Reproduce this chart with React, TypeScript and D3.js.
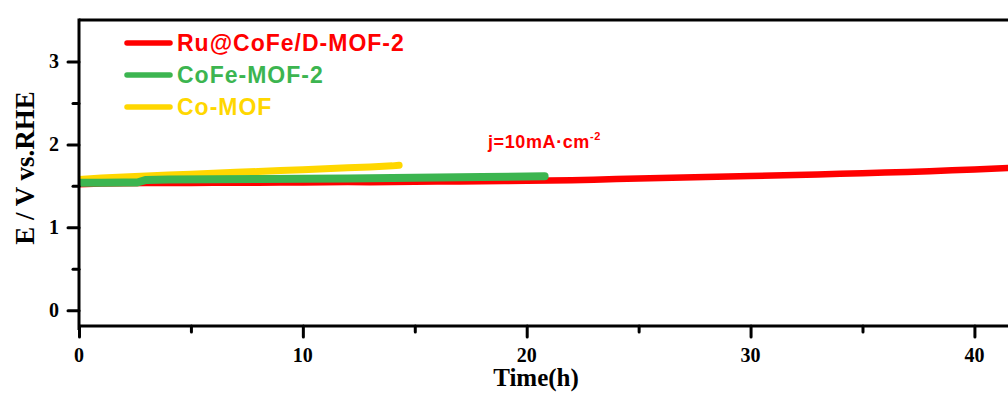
import { useEffect, useRef } from "react"
import * as d3 from "d3"

// Stability curves (time in h, potential in V vs. RHE)
const ruTime = [0, 1, 2, 3, 4, 5, 6, 7, 8, 9, 10, 11, 12, 13, 14, 15, 16, 17, 18, 19, 20, 21, 22, 23, 24, 25, 26, 27, 28, 29, 30, 31, 32, 33, 34, 35, 36, 37, 38, 39, 40, 41, 42]
const ruE = [1.52, 1.528, 1.531, 1.533, 1.535, 1.534, 1.537, 1.536, 1.538, 1.54, 1.539, 1.542, 1.545, 1.544, 1.547, 1.549, 1.551, 1.553, 1.556, 1.558, 1.561, 1.565, 1.569, 1.575, 1.582, 1.588, 1.594, 1.6, 1.606, 1.612, 1.618, 1.625, 1.632, 1.638, 1.645, 1.652, 1.66, 1.668, 1.677, 1.687, 1.698, 1.71, 1.722]

const coFeTime = [0, 1, 2, 2.6, 3.0, 4, 6, 8, 10, 12, 14, 16, 18, 20, 20.8]
const coFeE = [1.538, 1.537, 1.539, 1.54, 1.572, 1.576, 1.579, 1.583, 1.586, 1.589, 1.594, 1.6, 1.606, 1.612, 1.616]

const coTime = [0, 1, 2, 3, 4, 5, 6, 7, 8, 9, 10, 11, 12, 13, 14, 14.3]
const coE = [1.578, 1.594, 1.607, 1.619, 1.63, 1.641, 1.652, 1.663, 1.673, 1.684, 1.695, 1.706, 1.717, 1.728, 1.741, 1.748]

const xTicks = [0, 10, 20, 30, 40]
const yTicks = [0, 1, 2, 3]

const legendNames = ["Ru@CoFe/D-MOF-2", "CoFe-MOF-2", "Co-MOF"]
const legendColors = ["#ff0000", "#3cb550", "#ffd700"]

export default function App() {
  const svgRef = useRef<SVGSVGElement>(null)

  useEffect(() => {
    if (!svgRef.current) return
    const width = 1008
    const height = 394
    const margin = { top: 20, left: 79, bottom: 68 }
    const plotBottom = height - margin.bottom

    const svg = d3.select(svgRef.current)
    svg.selectAll("*").remove()
    svg.attr("width", width).attr("height", height)

    const x = d3.scaleLinear().domain([0, 41.5]).range([margin.left, width])
    const y = d3.scaleLinear().domain([-0.19, 3.5]).range([plotBottom, margin.top])

    const serif = "'Liberation Serif', 'Times New Roman', serif"
    const sans = "'Liberation Sans', Arial, sans-serif"

    // Curves
    const line = d3
      .line<[number, number]>()
      .x((d) => x(d[0]))
      .y((d) => y(d[1]))

    const series = [
      { t: coTime, v: coE, color: legendColors[2], w: 7, cap: "round" },
      { t: ruTime, v: ruE, color: legendColors[0], w: 6.5, cap: "butt" },
      { t: coFeTime, v: coFeE, color: legendColors[1], w: 8, cap: "round" },
    ]
    svg
      .append("clipPath")
      .attr("id", "plot-clip")
      .append("rect")
      .attr("x", margin.left)
      .attr("y", margin.top)
      .attr("width", width - margin.left)
      .attr("height", plotBottom - margin.top)
    series.forEach((s) => {
      svg
        .append("path")
        .datum(s.t.map((t, i) => [t, s.v[i]] as [number, number]))
        .attr("clip-path", "url(#plot-clip)")
        .attr("d", line)
        .attr("fill", "none")
        .attr("stroke", s.color)
        .attr("stroke-width", s.w)
        .attr("stroke-linecap", s.cap)
        .attr("stroke-linejoin", "round")
    })

    // Frame: top line
    svg
      .append("line")
      .attr("x1", margin.left)
      .attr("x2", width)
      .attr("y1", margin.top)
      .attr("y2", margin.top)
      .attr("stroke", "#000")
      .attr("stroke-width", 3)

    // X axis
    const xAxis = svg
      .append("g")
      .attr("transform", `translate(0,${plotBottom})`)
      .call(
        d3
          .axisBottom(x)
          .tickValues(d3.range(0, 42, 5))
          .tickSize(0)
          .tickFormat(() => ""),
      )
    xAxis.select(".domain").remove()
    xAxis
      .append("line")
      .attr("x1", margin.left)
      .attr("x2", width)
      .attr("stroke", "#000")
      .attr("stroke-width", 3)
    xAxis
      .selectAll(".tick")
      .append("line")
      .attr("y1", 0)
      .attr("y2", (d) => ((d as number) % 10 === 0 ? 11 : 6))
      .attr("stroke", "#000")
      .attr("stroke-width", 3)
      .attr("stroke-linecap", "round")
    xAxis.selectAll(".tick text").remove()
    xTicks.forEach((t) => {
      svg
        .append("text")
        .attr("x", x(t))
        .attr("y", 362)
        .attr("text-anchor", "middle")
        .attr("font-family", serif)
        .attr("font-weight", "bold")
        .attr("font-size", 20)
        .attr("fill", "#000")
        .text(t)
    })

    // Y axis
    const yAxis = svg
      .append("g")
      .attr("transform", `translate(${margin.left},0)`)
      .call(
        d3
          .axisLeft(y)
          .tickValues(d3.range(0, 3.01, 0.5))
          .tickSize(0)
          .tickFormat(() => ""),
      )
    yAxis.select(".domain").remove()
    yAxis
      .append("line")
      .attr("y1", margin.top - 1.5)
      .attr("y2", plotBottom + 4)
      .attr("stroke", "#000")
      .attr("stroke-width", 3)
    yAxis
      .selectAll(".tick")
      .append("line")
      .attr("x1", 0)
      .attr("x2", (d) => ((d as number) % 1 === 0 ? -11 : -6))
      .attr("stroke", "#000")
      .attr("stroke-width", 3)
      .attr("stroke-linecap", "round")
    yTicks.forEach((t) => {
      svg
        .append("text")
        .attr("x", 59)
        .attr("y", y(t) + 7)
        .attr("text-anchor", "end")
        .attr("font-family", serif)
        .attr("font-weight", "bold")
        .attr("font-size", 20)
        .attr("fill", "#000")
        .text(t)
    })

    // Axis titles
    svg
      .append("text")
      .attr("x", 536)
      .attr("y", 386)
      .attr("text-anchor", "middle")
      .attr("font-family", serif)
      .attr("font-weight", "bold")
      .attr("font-size", 25)
      .attr("fill", "#000")
      .text("Time(h)")
    svg
      .append("text")
      .attr("transform", "translate(34,168) rotate(-90)")
      .attr("text-anchor", "middle")
      .attr("font-family", serif)
      .attr("font-weight", "bold")
      .attr("font-size", 27)
      .attr("fill", "#000")
      .text("E / V vs.RHE")

    // Legend
    const legendY = [43, 75, 107]
    legendNames.forEach((name, i) => {
      svg
        .append("line")
        .attr("x1", 127)
        .attr("x2", 170)
        .attr("y1", legendY[i])
        .attr("y2", legendY[i])
        .attr("stroke", legendColors[i])
        .attr("stroke-width", 5.5)
        .attr("stroke-linecap", "round")
      svg
        .append("text")
        .attr("x", 177)
        .attr("y", legendY[i] + 8)
        .attr("font-family", sans)
        .attr("font-weight", "bold")
        .attr("font-size", 23)
        .attr("letter-spacing", 1)
        .attr("fill", legendColors[i])
        .text(name)
    })

    // Current density note
    const note = svg
      .append("text")
      .attr("x", 488)
      .attr("y", 148)
      .attr("font-family", sans)
      .attr("font-weight", "bold")
      .attr("font-size", 18)
      .attr("letter-spacing", 0.6)
      .attr("fill", "#ff0000")
    note.append("tspan").text("j=10mA\u00b7cm")
    note.append("tspan").attr("font-size", 11).attr("dy", -8).text("-2")
  }, [])

  return (
    <div>
      <svg ref={svgRef} style={{ position: "absolute", left: 0, top: 0, background: "#fff" }} />
    </div>
  )
}
